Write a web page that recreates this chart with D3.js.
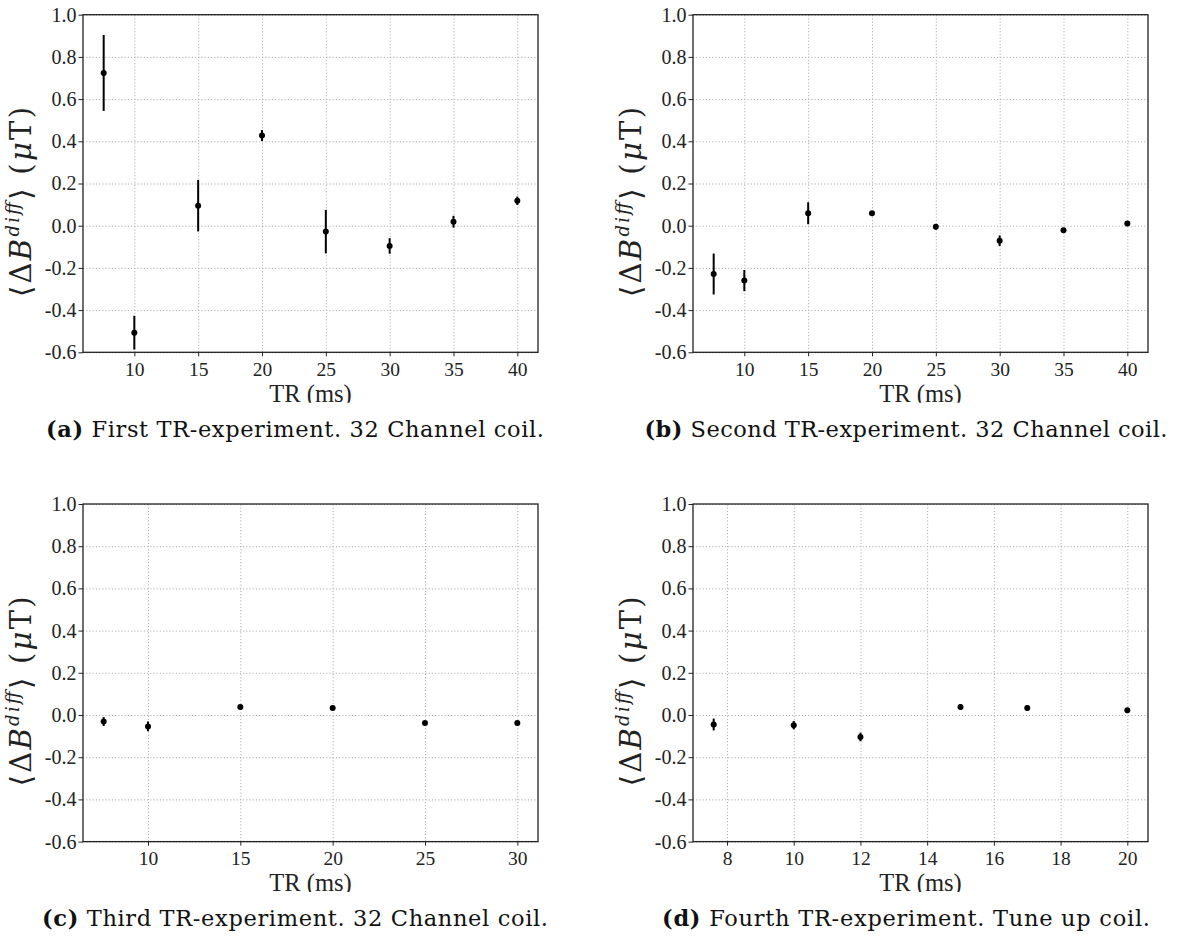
<!DOCTYPE html>
<html>
<head>
<meta charset="utf-8">
<script src="https://cdnjs.cloudflare.com/ajax/libs/d3/7.8.5/d3.min.js"></script>
<style>
	body{margin:0;background:#fff;}
	svg{display:block;font-family:"Liberation Serif","DejaVu Serif",serif;}
</style>
</head>
<body>
<div id="result"></div>
<script>
// TR values (ms) and mean dB^diff (uT) with error, one set per sub-figure
var trA   = [7.6, 10, 15, 20, 25, 30, 35, 40];
var meanA = [0.724, -0.507, 0.095, 0.427, -0.028, -0.096, 0.019, 0.118];
var errA  = [0.180, 0.080, 0.122, 0.026, 0.103, 0.037, 0.028, 0.020];

var trB   = [7.6, 10, 15, 20, 25, 30, 35, 40];
var meanB = [-0.229, -0.260, 0.059, 0.059, -0.005, -0.071, -0.022, 0.010];
var errB  = [0.097, 0.050, 0.052, 0.006, 0.013, 0.025, 0.006, 0.006];

var trC   = [7.6, 10, 15, 20, 25, 30];
var meanC = [-0.031, -0.054, 0.038, 0.033, -0.038, -0.038];
var errC  = [0.021, 0.023, 0.008, 0.010, 0.006, 0.006];

var trD   = [7.6, 10, 12, 15, 17, 20];
var meanD = [-0.045, -0.048, -0.104, 0.038, 0.033, 0.022];
var errD  = [0.028, 0.020, 0.020, 0.012, 0.012, 0.008];

var yTicks  = [-0.6, -0.4, -0.2, 0.0, 0.2, 0.4, 0.6, 0.8, 1.0];
var xTicksA = [10, 15, 20, 25, 30, 35, 40];
var xTicksB = [10, 15, 20, 25, 30, 35, 40];
var xTicksC = [10, 15, 20, 25, 30];
var xTicksD = [8, 10, 12, 14, 16, 18, 20];

var tags     = ["(a)", "(b)", "(c)", "(d)"];
var captions = [
	"First TR-experiment. 32 Channel coil.",
	"Second TR-experiment. 32 Channel coil.",
	"Third TR-experiment. 32 Channel coil.",
	"Fourth TR-experiment. Tune up coil."
];

(function(){
	'use strict';

	var W = 1189, H = 940;
	var SERIF = '"Liberation Serif", "DejaVu Serif", serif';
	var WIDE  = '"DejaVu Serif", "Liberation Serif", serif';

	// frame positions of the four axes, caption centre and width
	var layout = [
		{"left":83,  "top":14.7, "capX":295, "capW":498},
		{"left":693, "top":14.7, "capX":906, "capW":523},
		{"left":83,  "top":504,  "capX":295, "capW":506},
		{"left":693, "top":504,  "capX":906, "capW":488}
	];
	var pw = 455, ph = 337.6;

	var sets = [
		{"tr":trA, "mean":meanA, "err":errA, "ticks":xTicksA},
		{"tr":trB, "mean":meanB, "err":errB, "ticks":xTicksB},
		{"tr":trC, "mean":meanC, "err":errC, "ticks":xTicksC},
		{"tr":trD, "mean":meanD, "err":errD, "ticks":xTicksD}
	];

	var fmt = function(d){ return d3.format(".1f")(d).replace("\u2212", "-"); };

	var svg = d3.select("#result")
		.append("svg")
		.attr("width", W)
		.attr("height", H);

	svg.append("rect")
		.attr("width", W)
		.attr("height", H)
		.attr("fill", "#fff");

	var defs = svg.append("defs");

	sets.forEach(function(s, i){
		var L = layout[i];

		var lo = d3.min(s.tr), hi = d3.max(s.tr), pad = (hi - lo) * 0.05;
		var x = d3.scaleLinear().domain([lo - pad, hi + pad]).range([0, pw]);
		var y = d3.scaleLinear().domain([-0.6, 1.0]).range([ph, 0]);

		var g = svg.append("g")
			.attr("transform", "translate(" + L.left + "," + L.top + ")");

		// grid
		g.append("g")
			.attr("class", "grid")
			.call(d3.axisLeft(y).tickValues(yTicks).tickSize(-pw).tickFormat(""));
		g.append("g")
			.attr("class", "grid")
			.attr("transform", "translate(0," + ph + ")")
			.call(d3.axisBottom(x).tickValues(s.ticks).tickSize(-ph).tickFormat(""));
		g.selectAll(".grid .domain").remove();
		g.selectAll(".grid text").remove();
		g.selectAll(".grid line")
			.attr("stroke", "#b0b0b0")
			.attr("stroke-width", 1)
			.attr("stroke-dasharray", "1.2,2");

		// error bars and points
		var pts = s.tr.map(function(t, k){ return {"t":t, "m":s.mean[k], "e":s.err[k]}; });

		g.selectAll(".ebar")
			.data(pts)
			.enter()
			.append("line")
			.attr("class", "ebar")
			.attr("x1", function(d){ return x(d.t); })
			.attr("x2", function(d){ return x(d.t); })
			.attr("y1", function(d){ return y(d.m - d.e); })
			.attr("y2", function(d){ return y(d.m + d.e); })
			.attr("stroke", "#000")
			.attr("stroke-width", 2);

		g.selectAll(".pt")
			.data(pts)
			.enter()
			.append("circle")
			.attr("class", "pt")
			.attr("cx", function(d){ return x(d.t); })
			.attr("cy", function(d){ return y(d.m); })
			.attr("r", 3)
			.attr("fill", "#000");

		// axes
		g.append("g")
			.attr("class", "axis")
			.call(d3.axisLeft(y).tickValues(yTicks).tickSize(4.5).tickPadding(2).tickFormat(fmt))
			.attr("font-family", SERIF)
			.attr("font-size", 20);
		g.append("g")
			.attr("class", "axis")
			.attr("transform", "translate(0," + ph + ")")
			.call(d3.axisBottom(x).tickValues(s.ticks).tickSize(4).tickPadding(6).tickFormat(d3.format("d")))
			.attr("font-family", SERIF)
			.attr("font-size", 19.5);
		g.selectAll(".axis .domain").remove();
		g.selectAll(".axis line").attr("stroke", "#222");
		g.selectAll(".axis text").attr("fill", "#222");

		g.append("rect")
			.attr("width", pw)
			.attr("height", ph)
			.attr("fill", "none")
			.attr("stroke", "#222")
			.attr("stroke-width", 1.3);

		// x label, clipped at its baseline as in the source figure
		defs.append("clipPath")
			.attr("id", "clip" + i)
			.append("rect")
			.attr("x", -100)
			.attr("y", 0)
			.attr("width", pw + 200)
			.attr("height", ph + 50.5);

		g.append("text")
			.attr("clip-path", "url(#clip" + i + ")")
			.attr("x", pw / 2)
			.attr("y", ph + 49.5)
			.attr("text-anchor", "middle")
			.attr("fill", "#222")
			.attr("font-family", SERIF)
			.attr("font-size", 24.5)
			.text("TR (ms)");

		// y label
		var yl = g.append("text")
			.attr("transform", "translate(-52," + (ph / 2 + 18.5) + ") rotate(-90)")
			.attr("text-anchor", "middle")
			.attr("fill", "#222")
			.attr("font-family", WIDE)
			.attr("font-size", 29)
			.attr("textLength", 190)
			.attr("lengthAdjust", "spacing");
		yl.append("tspan").text("\u27e8\u0394");
		yl.append("tspan").attr("font-style", "italic").text("B");
		yl.append("tspan").attr("font-style", "italic").attr("font-size", 18).attr("dy", -12).text("diff");
		yl.append("tspan").attr("dy", 12).text("\u27e9 (");
		yl.append("tspan").attr("font-style", "italic").text("\u03bc");
		yl.append("tspan").text("T)");

		// caption
		var cap = svg.append("text")
			.attr("x", L.capX)
			.attr("y", L.top + ph + 84.5)
			.attr("text-anchor", "middle")
			.attr("fill", "#111")
			.attr("font-family", WIDE)
			.attr("font-size", 22.5)
			.attr("textLength", L.capW)
			.attr("lengthAdjust", "spacing");
		cap.append("tspan").attr("font-weight", "bold").text(tags[i]);
		cap.append("tspan").text(" " + captions[i]);
	});

})();
</script>
</body>
</html>
